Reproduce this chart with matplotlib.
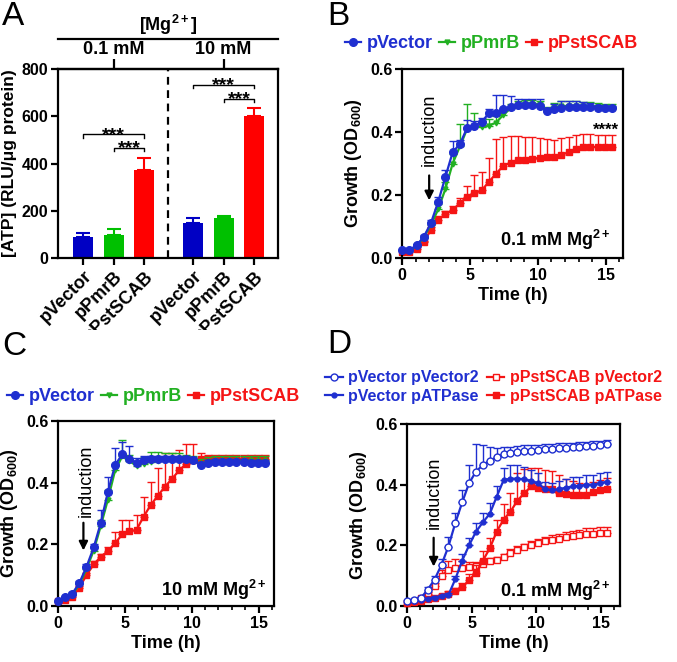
import numpy as np
import matplotlib
matplotlib.use('Agg')
import matplotlib.pyplot as plt
from matplotlib.lines import Line2D
from matplotlib.ticker import MultipleLocator
from matplotlib.transforms import Bbox, TransformedBbox

plt.rcParams['font.family'] = ['Liberation Sans', 'DejaVu Sans']
plt.rcParams['font.weight'] = 'bold'
plt.rcParams['axes.labelweight'] = 'bold'
plt.rcParams['mathtext.fontset'] = 'custom'
plt.rcParams['mathtext.rm'] = 'Liberation Sans:bold'
plt.rcParams['mathtext.bf'] = 'Liberation Sans:bold'
plt.rcParams['mathtext.it'] = 'Liberation Sans:bold'

# ---------------- data ----------------
# Panel A
atp_labels = ['pVector', 'pPmrB', 'pPstSCAB', 'pVector', 'pPmrB', 'pPstSCAB']
atp_mean = [87, 96, 371, 148, 168, 602]
atp_err = [17, 28, 51, 21, 8, 33]
mg_groups = ['0.1 mM', '10 mM']

# time points (h)
time_h = [0, 0.53, 1.07, 1.6, 2.13, 2.67, 3.2, 3.73, 4.27, 4.8, 5.33, 5.87, 6.4,
          6.93, 7.47, 8.0, 8.53, 9.07, 9.6, 10.13, 10.67, 11.2, 11.73, 12.27,
          12.8, 13.33, 13.87, 14.4, 14.93, 15.47]

# Panel B (0.1 mM Mg)
b_vec = [0.025, 0.025, 0.04, 0.067, 0.111, 0.179, 0.258, 0.336, 0.362, 0.414, 0.419,
         0.433, 0.459, 0.461, 0.472, 0.48, 0.486, 0.486, 0.486, 0.483, 0.467, 0.474,
         0.477, 0.478, 0.478, 0.478, 0.478, 0.477, 0.476, 0.476]
b_vec_err = [0.005, 0.005, 0.005, 0.005, 0.01, 0.015, 0.02, 0.035, 0.012, 0.025, 0.015,
             0.01, 0.015, 0.055, 0.045, 0.035, 0.02, 0.02, 0.02, 0.022, 0.01, 0.015,
             0.02, 0.02, 0.02, 0.018, 0.015, 0.01, 0.008, 0.008]
b_pmr = [0.022, 0.022, 0.038, 0.065, 0.105, 0.155, 0.22, 0.3, 0.355, 0.41, 0.42, 0.415,
         0.42, 0.43, 0.455, 0.475, 0.485, 0.49, 0.49, 0.488, 0.47, 0.478, 0.482, 0.483,
         0.483, 0.482, 0.482, 0.481, 0.48, 0.48]
b_pmr_err = [0.004, 0.004, 0.005, 0.006, 0.01, 0.015, 0.02, 0.03, 0.07, 0.08, 0.04, 0.02,
             0.02, 0.02, 0.015, 0.015, 0.012, 0.012, 0.012, 0.012, 0.01, 0.015, 0.015,
             0.015, 0.015, 0.012, 0.012, 0.01, 0.01, 0.01]
b_pst = [0.02, 0.02, 0.03, 0.05, 0.09, 0.122, 0.139, 0.152, 0.175, 0.194, 0.205, 0.215,
         0.242, 0.268, 0.293, 0.303, 0.31, 0.312, 0.315, 0.318, 0.32, 0.32, 0.328, 0.335,
         0.345, 0.352, 0.353, 0.352, 0.352, 0.352]
b_pst_err = [0.003, 0.003, 0.004, 0.005, 0.008, 0.01, 0.01, 0.012, 0.015, 0.035, 0.057,
             0.058, 0.075, 0.11, 0.092, 0.085, 0.078, 0.073, 0.068, 0.062, 0.058, 0.055,
             0.052, 0.05, 0.045, 0.043, 0.04, 0.038, 0.038, 0.038]

# Panel C (10 mM Mg)
c_vec = [0.015, 0.03, 0.04, 0.075, 0.127, 0.19, 0.27, 0.37, 0.457, 0.492, 0.478, 0.464,
         0.475, 0.478, 0.478, 0.476, 0.476, 0.476, 0.476, 0.474, 0.458, 0.465, 0.466,
         0.467, 0.467, 0.466, 0.466, 0.465, 0.465, 0.465]
c_vec_err = [0.004, 0.004, 0.005, 0.006, 0.008, 0.012, 0.04, 0.05, 0.055, 0.04, 0.04,
             0.015, 0.01, 0.01, 0.01, 0.01, 0.01, 0.01, 0.01, 0.01, 0.01, 0.01, 0.01,
             0.01, 0.01, 0.01, 0.01, 0.01, 0.01, 0.01]
c_pmr = [0.015, 0.028, 0.038, 0.07, 0.12, 0.18, 0.26, 0.345, 0.44, 0.485, 0.47, 0.455,
         0.462, 0.468, 0.47, 0.472, 0.475, 0.475, 0.474, 0.47, 0.462, 0.468, 0.47, 0.47,
         0.47, 0.47, 0.47, 0.47, 0.47, 0.47]
c_pmr_err = [0.004, 0.004, 0.005, 0.006, 0.008, 0.012, 0.02, 0.03, 0.02, 0.055, 0.02,
             0.015, 0.02, 0.03, 0.03, 0.025, 0.02, 0.02, 0.015, 0.015, 0.015, 0.015, 0.015,
             0.015, 0.015, 0.015, 0.015, 0.015, 0.015, 0.015]
c_pst = [0.015, 0.02, 0.03, 0.06, 0.1, 0.135, 0.16, 0.178, 0.204, 0.232, 0.242, 0.247,
         0.29, 0.327, 0.358, 0.387, 0.413, 0.44, 0.462, 0.474, 0.476, 0.477, 0.478, 0.478,
         0.478, 0.478, 0.478, 0.478, 0.477, 0.477]
c_pst_err = [0.004, 0.004, 0.005, 0.006, 0.008, 0.01, 0.01, 0.012, 0.037, 0.047, 0.037,
             0.047, 0.065, 0.076, 0.088, 0.11, 0.082, 0.065, 0.063, 0.052, 0.02, 0.013,
             0.013, 0.013, 0.013, 0.013, 0.013, 0.013, 0.013, 0.013]

# Panel D (0.1 mM Mg, ATPase)
d_vec_vec2 = [0.015, 0.02, 0.026, 0.054, 0.087, 0.136, 0.196, 0.273, 0.342, 0.405, 0.443,
              0.465, 0.478, 0.49, 0.5, 0.505, 0.508, 0.51, 0.512, 0.514, 0.516, 0.518,
              0.52, 0.521, 0.523, 0.525, 0.527, 0.529, 0.531, 0.533]
d_vec_vec2_err = [0.003, 0.003, 0.005, 0.008, 0.012, 0.02, 0.03, 0.035, 0.04, 0.06, 0.09,
                  0.065, 0.045, 0.03, 0.025, 0.02, 0.02, 0.02, 0.018, 0.018, 0.018, 0.016,
                  0.016, 0.015, 0.015, 0.015, 0.015, 0.014, 0.014, 0.014]
d_vec_atp = [0.015, 0.017, 0.02, 0.024, 0.028, 0.032, 0.036, 0.088, 0.15, 0.2, 0.245,
             0.276, 0.304, 0.36, 0.415, 0.42, 0.42, 0.418, 0.412, 0.405, 0.385, 0.382,
             0.385, 0.39, 0.394, 0.396, 0.4, 0.4, 0.405, 0.41]
d_vec_atp_err = [0.003, 0.003, 0.003, 0.004, 0.004, 0.005, 0.006, 0.012, 0.02, 0.025,
                 0.03, 0.03, 0.035, 0.035, 0.04, 0.045, 0.045, 0.04, 0.035, 0.035, 0.025,
                 0.025, 0.028, 0.03, 0.03, 0.03, 0.032, 0.032, 0.033, 0.033]
d_pst_vec2 = [0.01, 0.015, 0.025, 0.04, 0.067, 0.1, 0.12, 0.125, 0.125, 0.13, 0.132,
              0.139, 0.147, 0.152, 0.163, 0.176, 0.185, 0.193, 0.2, 0.207, 0.213, 0.218,
              0.222, 0.226, 0.23, 0.233, 0.236, 0.238, 0.24, 0.24]
d_pst_vec2_err = [0.003, 0.003, 0.004, 0.006, 0.01, 0.02, 0.03, 0.03, 0.025, 0.015, 0.012,
                  0.012, 0.01, 0.01, 0.01, 0.012, 0.013, 0.013, 0.014, 0.015, 0.015, 0.016,
                  0.017, 0.018, 0.018, 0.019, 0.02, 0.02, 0.02, 0.02]
d_pst_atp = [0.01, 0.012, 0.018, 0.022, 0.027, 0.033, 0.04, 0.05, 0.062, 0.085, 0.11,
             0.15, 0.19, 0.245, 0.285, 0.311, 0.347, 0.372, 0.394, 0.39, 0.385, 0.385,
             0.372, 0.37, 0.367, 0.367, 0.367, 0.375, 0.382, 0.387]
d_pst_atp_err = [0.003, 0.003, 0.003, 0.004, 0.005, 0.006, 0.008, 0.01, 0.015, 0.02, 0.025,
                 0.03, 0.035, 0.04, 0.05, 0.06, 0.09, 0.08, 0.06, 0.065, 0.065, 0.06, 0.06,
                 0.05, 0.045, 0.04, 0.035, 0.035, 0.035, 0.035]

# ---------------- style ----------------
BLUE = '#1f2fd0'
GREEN = '#22b022'
RED = '#f51515'
BAR_COLORS = ['#0000c4', '#00c000', '#ff0000'] * 2
W, H = 677, 662

fig = plt.figure(figsize=(W / 100, H / 100), dpi=100)


def axes_px(left, top, right, bottom):
    return fig.add_axes([left / W, 1 - bottom / H, (right - left) / W, (bottom - top) / H])


def style_axes(ax):
    for s in ax.spines.values():
        s.set_linewidth(1.6)
    ax.tick_params(which='major', direction='out', length=5, width=1.6,
                   labelsize=11.5, pad=2)
    ax.tick_params(which='minor', direction='out', length=3, width=1.2)


# ---------------- Panel A ----------------
axA = axes_px(58, 69, 278, 258)
style_axes(axA)
posA = [0, 1, 2, 3.6, 4.6, 5.6]
axA.bar(posA, atp_mean, width=0.66, color=BAR_COLORS, zorder=2)
for x, m, e, c in zip(posA, atp_mean, atp_err, BAR_COLORS):
    axA.errorbar([x], [m], yerr=[[0], [e]], fmt='none', ecolor=c, elinewidth=1.5,
                 capsize=5, capthick=1.5, zorder=1)
axA.set_xlim(-0.83, 6.38)
axA.set_ylim(0, 800)
axA.set_yticks([0, 200, 400, 600, 800])
axA.set_xticks(posA)
axA.set_xticklabels(atp_labels, rotation=45, ha='right', rotation_mode='anchor',
                    fontsize=13)
axA.set_ylabel('[ATP] (RLU/\u03bcg protein)', fontsize=12.5, labelpad=3)
axA.axvline(2.79, color='k', lw=1.6, ls=(0, (3.5, 2.5)))

# top group axis
sec = axA.secondary_xaxis('top')
sec.set_xticks([1, 4.6])
sec.set_xticklabels(mg_groups, fontsize=13)
sec.tick_params(direction='out', length=7, width=1.6, pad=1)
sec.spines['top'].set_linewidth(1.6)
axA.plot([0, 1], [1.159, 1.159], transform=axA.transAxes, color='k', lw=1.6,
         clip_on=False)
axA.text(0.5, 1.233, '[Mg$^{2+}$]', transform=axA.transAxes, ha='center',
         va='center', fontsize=13)


def bracket(ax, x1, x2, y, drop=14):
    ax.plot([x1, x1, x2, x2], [y - drop, y, y, y - drop], color='k', lw=1.0)
    ax.annotate('***', xy=((x1 + x2) / 2, y), xytext=(0, -4.0),
                textcoords='offset points', ha='center', va='baseline', fontsize=14)


sig_pairs = [(0, 2, 523), (1, 2, 466), (3, 5, 733), (4, 5, 673)]
for i, j, lvl in sig_pairs:
    bracket(axA, posA[i], posA[j], lvl)

clip = TransformedBbox(Bbox([[0, 1 - 330 / H], [1, 1]]), fig.transFigure)
for lbl in axA.get_xticklabels():
    lbl.set_clip_box(clip)
    lbl.set_clip_on(True)


# ---------------- growth panels ----------------
def growth_panel(ax, series, xmax, ind_text, ind_arrow, mg_label, mg_pos):
    style_axes(ax)
    for mean, err, color, marker, ms, mfc, z in series:
        ax.errorbar(time_h, mean, yerr=[np.zeros(len(err)), err], fmt='none',
                    ecolor=color, elinewidth=1.0, capsize=2.6, capthick=1.0, zorder=z)
        ax.plot(time_h, mean, color=color, lw=1.6, marker=marker, ms=ms, mfc=mfc,
                mec=color, mew=1.0, zorder=z + 0.5, clip_on=False)
    ax.set_xlim(0, xmax)
    ax.set_ylim(0, 0.6)
    ax.set_xticks([0, 5, 10, 15])
    ax.xaxis.set_minor_locator(MultipleLocator(1))
    ax.set_yticks([0, 0.2, 0.4, 0.6])
    ax.set_yticklabels(['0.0', '0.2', '0.4', '0.6'])
    ax.set_xlabel('Time (h)', fontsize=13, labelpad=3)
    ax.set_ylabel('Growth (OD$_{600}$)', fontsize=13, labelpad=4)
    ax.text(ind_text[0], ind_text[1], 'induction', rotation=90, ha='center',
            va='center', fontsize=13, fontweight='normal')
    ax.annotate('', xy=(ind_arrow[0], ind_arrow[2]), xytext=(ind_arrow[0], ind_arrow[1]),
                arrowprops=dict(arrowstyle='-|>', lw=1.6, color='k',
                                mutation_scale=13, shrinkA=0, shrinkB=0))
    ax.text(mg_pos[0], mg_pos[1], mg_label, transform=ax.transAxes, ha='right',
            va='center', fontsize=13)


def make_legend(ax, handles, labels, colors, anchor, ncol, size=13, **kw):
    opts = dict(handlelength=0.9, handletextpad=0.3, columnspacing=0.35)
    opts.update(kw)
    leg = ax.legend(handles, labels, loc='center left', bbox_to_anchor=anchor,
                    bbox_transform=fig.transFigure, ncol=ncol, frameon=False,
                    borderpad=0, borderaxespad=0, numpoints=1,
                    prop=dict(weight='bold', size=size), **opts)
    for t, c in zip(leg.get_texts(), colors):
        t.set_color(c)
    return leg


# Panel B
axB = axes_px(402, 69, 623, 258)
growth_panel(axB,
             [(b_pst, b_pst_err, RED, 's', 4.5, RED, 2),
              (b_pmr, b_pmr_err, GREEN, 'v', 3.5, GREEN, 3),
              (b_vec, b_vec_err, BLUE, 'o', 5.5, BLUE, 4)],
             16.27, (2.0, 0.407), (2.0, 0.262, 0.183), '0.1 mM Mg$^{2+}$', (0.942, 0.095))
axB.text(15.0, 0.392, '****', ha='center', va='baseline', fontsize=12)
hB = [Line2D([], [], color=BLUE, marker='o', ms=5.5, lw=1.6),
      Line2D([], [], color=GREEN, marker='v', ms=3.5, lw=1.6),
      Line2D([], [], color=RED, marker='s', ms=4.5, lw=1.6)]
make_legend(axB, hB, ['pVector', 'pPmrB', 'pPstSCAB'], [BLUE, GREEN, RED],
            (345 / W, 1 - 44 / H), 3)

# Panel C
axC = axes_px(58, 421, 274, 606)
growth_panel(axC,
             [(c_pst, c_pst_err, RED, 's', 4.5, RED, 2),
              (c_pmr, c_pmr_err, GREEN, 'v', 3.5, GREEN, 3),
              (c_vec, c_vec_err, BLUE, 'o', 5.5, BLUE, 4)],
             16.15, (2.1, 0.406), (1.9, 0.27, 0.18), '10 mM Mg$^{2+}$', (0.966, 0.086))
make_legend(axC, hB, ['pVector', 'pPmrB', 'pPstSCAB'], [BLUE, GREEN, RED],
            (7 / W, 1 - 397 / H), 3)

# Panel D
axD = axes_px(407, 424, 620, 606)
growth_panel(axD,
             [(d_pst_vec2, d_pst_vec2_err, RED, 's', 4.5, 'white', 2),
              (d_pst_atp, d_pst_atp_err, RED, 's', 4.0, RED, 3),
              (d_vec_atp, d_vec_atp_err, BLUE, 'o', 3.5, BLUE, 4),
              (d_vec_vec2, d_vec_vec2_err, BLUE, 'o', 5.0, 'white', 5)],
             16.47, (2.13, 0.372), (2.06, 0.225, 0.13), '0.1 mM Mg$^{2+}$', (0.956, 0.082))
hD = [Line2D([], [], color=BLUE, marker='o', ms=5.0, mfc='white', lw=1.6),
      Line2D([], [], color=BLUE, marker='o', ms=3.5, lw=1.6),
      Line2D([], [], color=RED, marker='s', ms=4.5, mfc='white', lw=1.6),
      Line2D([], [], color=RED, marker='s', ms=4.0, lw=1.6)]
make_legend(axD, hD, ['pVector pVector2', 'pVector pATPase', 'pPstSCAB pVector2',
                      'pPstSCAB pATPase'], [BLUE, BLUE, RED, RED],
            (325 / W, 1 - 387 / H), 2, size=11.5, labelspacing=0.2,
            handlelength=1.1, handletextpad=0.35, columnspacing=0.5)

# panel letters
for letter, x, y in [('A', 2, 1), ('B', 327, 1), ('C', 2, 331), ('D', 327, 329)]:
    fig.text(x / W, 1 - y / H, letter, fontsize=24, fontweight='normal', va='top',
             ha='left')

fig.savefig('out.png', dpi=100)
